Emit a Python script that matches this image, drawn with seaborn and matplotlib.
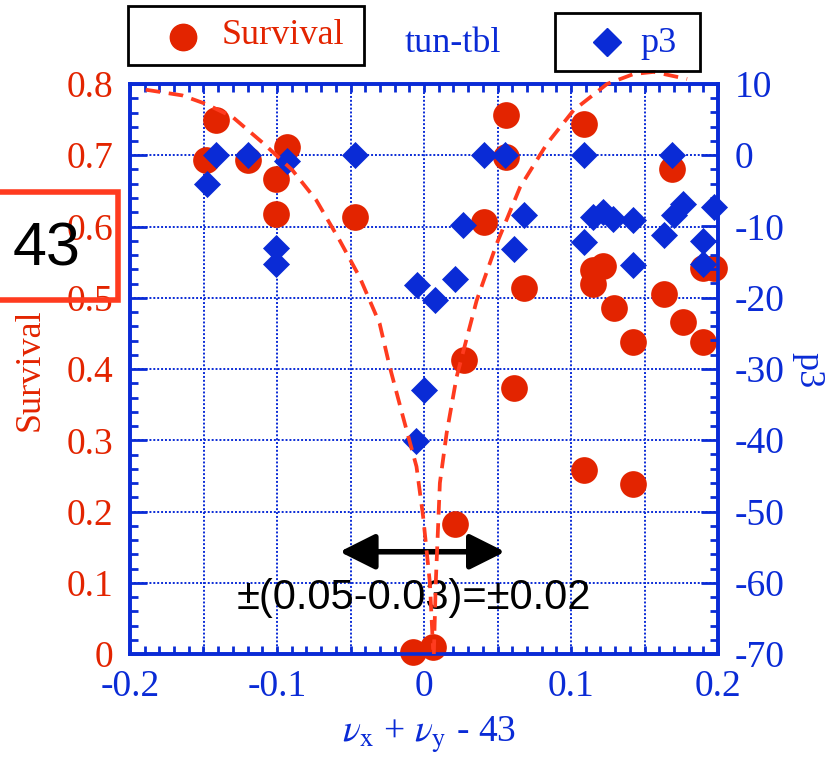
import matplotlib
matplotlib.use("Agg")
import matplotlib.pyplot as plt
import seaborn as sns
import pandas as pd
from matplotlib.lines import Line2D
from matplotlib.patches import Rectangle
from matplotlib.ticker import MultipleLocator, FixedLocator, FixedFormatter

# ---------------- data ----------------
surv_x = [-0.1415, -0.148, -0.120, -0.0934, -0.1006, -0.1006, -0.0467,
          0.0556, 0.0556, 0.0408, 0.0681, 0.027, 0.0613, 0.0212, 0.0062, -0.0074,
          0.109, 0.169, 0.115, 0.115, 0.1218, 0.129, 0.142, 0.163, 0.176, 0.190,
          0.190, 0.197, 0.109, 0.142]
surv_y = [0.750, 0.694, 0.694, 0.711, 0.666, 0.617, 0.613,
          0.756, 0.697, 0.606, 0.514, 0.412, 0.373, 0.183, 0.010, 0.003,
          0.744, 0.680, 0.539, 0.520, 0.545, 0.486, 0.438, 0.505, 0.466, 0.438,
          0.542, 0.542, 0.258, 0.238]

p3_x = [-0.1415, -0.120, -0.1475, -0.0934, -0.1006, -0.1006, -0.0467,
        -0.005, 0.0074, 0.021, 0.0267, 0.0408, 0.0551, 0.068, 0.0613,
        0.109, 0.109, 0.115, 0.1218, 0.1286, 0.142, 0.142, 0.169, 0.163,
        0.1704, 0.176, 0.190, 0.190, 0.197, -0.0001, -0.0056]
p3_y = [0.0, 0.0, -4.0, -0.8, -13.0, -15.2, 0.0,
        -18.2, -20.3, -17.4, -9.8, 0.0, 0.0, -8.4, -13.2,
        0.0, -12.2, -8.6, -8.0, -8.9, -9.1, -15.4, 0.0, -11.2,
        -8.4, -6.8, -12.0, -15.2, -7.3, -32.9, -40.1]

fitL_x = [-0.1893, -0.1645, -0.1484, -0.1304, -0.110, -0.0895, -0.0733, -0.0575,
          -0.0438, -0.0302, -0.0233, -0.0143, -0.0051, -0.0006, 0.004, 0.0062]
fitL_y = [0.792, 0.784, 0.772, 0.754, 0.718, 0.679, 0.637, 0.581,
          0.529, 0.464, 0.403, 0.333, 0.263, 0.193, 0.100, 0.006]
fitR_x = [0.0067, 0.008, 0.0108, 0.0154, 0.0222, 0.0358, 0.0495, 0.0653,
          0.0836, 0.1017, 0.1245, 0.1426, 0.1563, 0.179]
fitR_y = [0.0, 0.100, 0.240, 0.310, 0.389, 0.496, 0.576, 0.655,
          0.716, 0.763, 0.800, 0.814, 0.817, 0.807]

x_ticks = [-0.2, -0.1, 0.0, 0.1, 0.2]
x_tick_labels = ["-0.2", "-0.1", "0", "0.1", "0.2"]
yl_ticks = [0, 0.1, 0.2, 0.3, 0.4, 0.5, 0.6, 0.7, 0.8]
yl_tick_labels = ["0", "0.1", "0.2", "0.3", "0.4", "0.5", "0.6", "0.7", "0.8"]
yr_ticks = [-70, -60, -50, -40, -30, -20, -10, 0, 10]
yr_tick_labels = ["-70", "-60", "-50", "-40", "-30", "-20", "-10", "0", "10"]

surv_df = pd.DataFrame({"x": surv_x, "Survival": surv_y})
p3_df = pd.DataFrame({"x": p3_x, "p3": p3_y})

# ---------------- style ----------------
sns.set_style("white")
plt.rcParams["font.family"] = ["Liberation Serif", "DejaVu Serif"]
plt.rcParams["mathtext.fontset"] = "stix"
plt.rcParams["axes.unicode_minus"] = False

RED = "#E32400"
LINE_RED = "#FF3B1F"
BLUE = "#0A2BD6"
FS = 27

fig = plt.figure(figsize=(8.36, 7.69), dpi=100)
ax = fig.add_axes([130 / 836, 1 - 654 / 769, 588 / 836, 570 / 769])
ax2 = ax.twinx()

sns.scatterplot(data=surv_df, x="x", y="Survival", ax=ax, color=RED, marker="o",
                s=370, linewidth=0, legend=False, zorder=3, clip_on=False)
sns.scatterplot(data=p3_df, x="x", y="p3", ax=ax2, color=BLUE, marker="D",
                s=190, linewidth=0, legend=False, zorder=3, clip_on=False)
for fx, fy in ((fitL_x, fitL_y), (fitR_x, fitR_y)):
    sns.lineplot(x=fx, y=fy, ax=ax2, sort=False, estimator=None, color=LINE_RED,
                 lw=2.7, linestyle=(0, (3.9, 2.3)), transform=ax.transData,
                 clip_on=False, zorder=5, legend=False)

ax.set_xlim(-0.2, 0.2)
ax.set_ylim(0, 0.8)
ax2.set_ylim(-70, 10)
ax.set_xlabel("")
ax.set_ylabel("")
ax2.set_ylabel("")

# ticks
ax.xaxis.set_major_locator(FixedLocator(x_ticks))
ax.xaxis.set_major_formatter(FixedFormatter(x_tick_labels))
ax.xaxis.set_minor_locator(MultipleLocator(0.01))
ax.yaxis.set_major_locator(FixedLocator(yl_ticks))
ax.yaxis.set_major_formatter(FixedFormatter(yl_tick_labels))
ax.yaxis.set_minor_locator(MultipleLocator(0.02))
ax2.yaxis.set_major_locator(FixedLocator(yr_ticks))
ax2.yaxis.set_major_formatter(FixedFormatter(yr_tick_labels))
ax2.yaxis.set_minor_locator(MultipleLocator(2))

ax.tick_params(axis="x", which="both", direction="in", top=True, bottom=True,
               color=BLUE, labelcolor=BLUE, labelsize=FS, width=2, pad=11)
ax.tick_params(axis="x", which="major", length=6)
ax.tick_params(axis="x", which="minor", length=6)
ax.tick_params(axis="y", which="both", direction="in", left=True, right=False,
               color=BLUE, labelcolor=RED, labelsize=FS, width=2, pad=12)
ax.tick_params(axis="y", which="major", length=12)
ax.tick_params(axis="y", which="minor", length=6)
ax2.tick_params(axis="y", which="both", direction="in", right=True, left=False,
                color=BLUE, labelcolor=BLUE, labelsize=FS, width=2, pad=12)
ax2.tick_params(axis="y", which="major", length=12)
ax2.tick_params(axis="y", which="minor", length=6)

# grid
for gx in [-0.15, -0.1, -0.05, 0.0, 0.05, 0.1, 0.15]:
    ax.axvline(gx, color=BLUE, lw=1.4, ls=(0, (1, 1.0)), zorder=1)
for gy in yl_ticks[1:-1]:
    ax.axhline(gy, color=BLUE, lw=1.4, ls=(0, (1, 1.0)), zorder=1)

for a in (ax, ax2):
    for sp in a.spines.values():
        sp.set_color(BLUE)
        sp.set_linewidth(2.6)
        sp.set_visible(True)

# arrow and annotation
ax.annotate("", xy=(0.0551, 0.1435), xytext=(-0.0574, 0.1435),
            arrowprops=dict(arrowstyle="<|-|>", lw=4, color="black",
                            mutation_scale=54, shrinkA=0, shrinkB=0), zorder=6)
ax.text(-0.0066, 0.0785, "±(0.05-0.03)=±0.02", ha="center", va="center",
        fontsize=30, family=["Liberation Sans", "DejaVu Sans"], color="black", zorder=6)

# axis labels
fig.text(30 / 836, 1 - 370 / 769, "Survival", rotation=90, color=RED,
         fontsize=26, ha="center", va="center")
fig.text(808 / 836, 1 - 370 / 769, "p3", rotation=270, color=BLUE,
         fontsize=26, ha="center", va="center")
fig.text(429 / 836, 1 - 735 / 769, r"$\nu_{\mathrm{x}}$ + $\nu_{\mathrm{y}}$ - 43",
         color=BLUE, fontsize=27, ha="center", va="center")

# legend-like boxes
fig.patches.append(Rectangle((128 / 836, 1 - 65 / 769), 236 / 836, 59 / 769,
                             transform=fig.transFigure, fill=False,
                             edgecolor="black", lw=2))
fig.lines.append(Line2D([183 / 836], [1 - 37 / 769], transform=fig.transFigure,
                        marker="o", markersize=19, color=RED, ls="none"))
fig.text(222 / 836, 1 - 36 / 769, "Survival", color=RED, fontsize=26,
         ha="left", va="center")
fig.text(453 / 836, 1 - 44 / 769, "tun-tbl", color=BLUE, fontsize=26,
         ha="center", va="center")
fig.patches.append(Rectangle((555 / 836, 1 - 71 / 769), 145 / 836, 58 / 769,
                             transform=fig.transFigure, fill=False,
                             edgecolor="black", lw=2))
fig.lines.append(Line2D([607 / 836], [1 - 42 / 769], transform=fig.transFigure,
                        marker="D", markersize=14, color=BLUE, ls="none"))
fig.text(640 / 836, 1 - 43 / 769, "p3", color=BLUE, fontsize=26,
         ha="left", va="center")

# red box with "43"
fig.patches.append(Rectangle((-10 / 836, 1 - 300 / 769), 128 / 836, 108 / 769,
                             transform=fig.transFigure, fill=False,
                             edgecolor="#FF3B1F", lw=4))
fig.text(47 / 836, 1 - 250 / 769, "43", color="black", fontsize=44,
         family=["Liberation Sans", "DejaVu Sans"], ha="center", va="center")

fig.savefig("out.png", dpi=100)
